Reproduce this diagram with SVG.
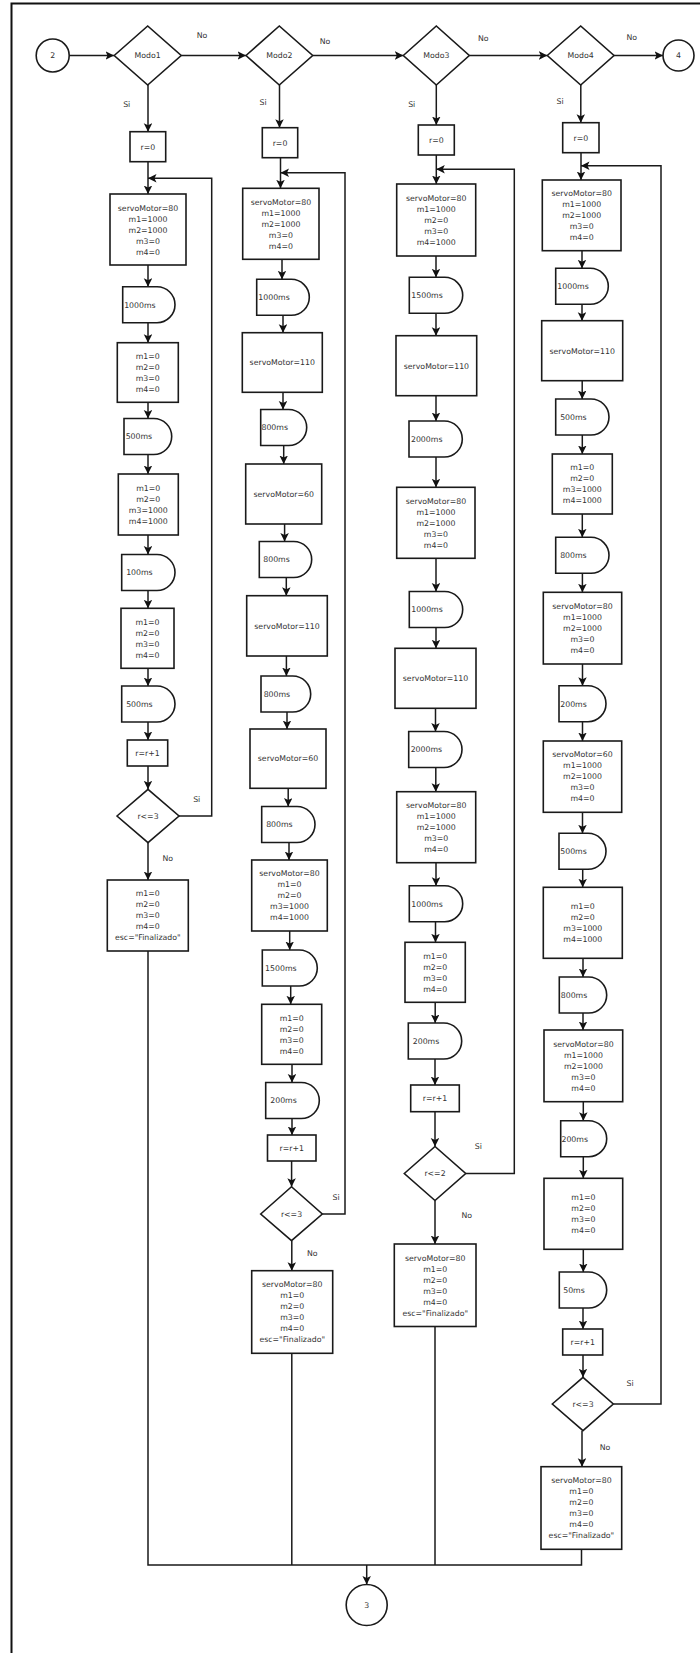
<svg xmlns="http://www.w3.org/2000/svg" width="700" height="1653" viewBox="0 0 700 1653">
  <style>
    .shape { fill: #ffffff; stroke: #1a1a1a; stroke-width: 1.6; }
    .edge { fill: none; stroke: #1a1a1a; stroke-width: 1.5; }
    .arr { marker-end: url(#ah); }
    text { font-family: "DejaVu Sans", Verdana, sans-serif; font-size: 7.8px; fill: #333333; text-anchor: middle; }
  </style>
  <defs>
    <marker id="ah" markerUnits="userSpaceOnUse" markerWidth="10" markerHeight="9" refX="8.5" refY="4.25" orient="auto">
      <path d="M0,0 L8.5,4.25 L0,8.5 L2,4.25 Z" fill="#111111"/>
    </marker>
  </defs>

  <rect width="700" height="1653" fill="#ffffff"/>
  <!-- page frame -->
  <rect x="11.5" y="3.5" width="720" height="1700" fill="none" stroke="#111111" stroke-width="2"/>

  <!-- ============ connectors ============ -->
  <g id="connectors">
    <!-- top row -->
    <line class="edge arr" x1="69.2" y1="55.5" x2="114" y2="55.5"/>
    <line class="edge arr" x1="181.2" y1="55.5" x2="246" y2="55.5"/>
    <line class="edge arr" x1="312.7" y1="55.5" x2="403.3" y2="55.5"/>
    <line class="edge arr" x1="469.3" y1="55.5" x2="547.3" y2="55.5"/>
    <line class="edge arr" x1="614" y1="55.5" x2="663" y2="55.5"/>

    <!-- Modo1 column -->
    <line class="edge arr" x1="148" y1="85" x2="148" y2="131.7"/>
    <line class="edge arr" x1="148" y1="161.7" x2="148" y2="194"/>
    <line class="edge arr" x1="148" y1="265" x2="148" y2="286.7"/>
    <line class="edge arr" x1="148" y1="322.7" x2="148" y2="342.7"/>
    <line class="edge arr" x1="148" y1="402.3" x2="148" y2="418.5"/>
    <line class="edge arr" x1="148" y1="454.5" x2="148" y2="474"/>
    <line class="edge arr" x1="148" y1="535" x2="148" y2="554.5"/>
    <line class="edge arr" x1="148" y1="590.5" x2="148" y2="608.3"/>
    <line class="edge arr" x1="148" y1="668.3" x2="148" y2="686"/>
    <line class="edge arr" x1="148" y1="722" x2="148" y2="740"/>
    <line class="edge arr" x1="148" y1="766" x2="148" y2="789.3"/>
    <line class="edge arr" x1="148" y1="842.7" x2="148" y2="880"/>
    <polyline class="edge arr" points="179,816 211.7,816 211.7,178.3 148,178.3"/>

    <!-- Modo2 column -->
    <line class="edge arr" x1="279.5" y1="85" x2="279.5" y2="127.7"/>
    <line class="edge arr" x1="280.5" y1="157.7" x2="280.5" y2="188.3"/>
    <line class="edge arr" x1="282" y1="259.3" x2="282" y2="279.3"/>
    <line class="edge arr" x1="283" y1="315.3" x2="283" y2="332.7"/>
    <line class="edge arr" x1="283" y1="392.3" x2="283" y2="409.5"/>
    <line class="edge arr" x1="283.7" y1="445.5" x2="283.7" y2="464"/>
    <line class="edge arr" x1="284.6" y1="524" x2="284.6" y2="541.5"/>
    <line class="edge arr" x1="286.3" y1="577.5" x2="286.3" y2="595.7"/>
    <line class="edge arr" x1="286.4" y1="656" x2="286.4" y2="676"/>
    <line class="edge arr" x1="287" y1="712" x2="287" y2="729"/>
    <line class="edge arr" x1="288.2" y1="788.3" x2="288.2" y2="806.5"/>
    <line class="edge arr" x1="289" y1="842.5" x2="289" y2="860"/>
    <line class="edge arr" x1="289.7" y1="931" x2="289.7" y2="950"/>
    <line class="edge arr" x1="290.7" y1="986" x2="290.7" y2="1004.3"/>
    <line class="edge arr" x1="292" y1="1064.3" x2="292" y2="1082.5"/>
    <line class="edge arr" x1="292" y1="1118.5" x2="292" y2="1135"/>
    <line class="edge arr" x1="291.6" y1="1161" x2="291.6" y2="1186.7"/>
    <line class="edge arr" x1="291.8" y1="1240.7" x2="291.8" y2="1270.7"/>
    <polyline class="edge arr" points="322.3,1214 345,1214 345,172.7 280.5,172.7"/>

    <!-- Modo3 column -->
    <line class="edge arr" x1="436.3" y1="85" x2="436.3" y2="125"/>
    <line class="edge arr" x1="436.3" y1="155" x2="436.3" y2="184"/>
    <line class="edge arr" x1="436" y1="256" x2="436" y2="277.3"/>
    <line class="edge arr" x1="436" y1="313.3" x2="436" y2="335.7"/>
    <line class="edge arr" x1="436" y1="395.7" x2="436" y2="421"/>
    <line class="edge arr" x1="436" y1="457" x2="436" y2="487.3"/>
    <line class="edge arr" x1="436" y1="558.3" x2="436" y2="591.5"/>
    <line class="edge arr" x1="436" y1="627.5" x2="436" y2="648.3"/>
    <line class="edge arr" x1="435.5" y1="708.3" x2="435.5" y2="731.5"/>
    <line class="edge arr" x1="435.8" y1="767.5" x2="435.8" y2="791.7"/>
    <line class="edge arr" x1="436" y1="862.7" x2="436" y2="885.7"/>
    <line class="edge arr" x1="435.5" y1="921.7" x2="435.5" y2="942.3"/>
    <line class="edge arr" x1="435.2" y1="1002.3" x2="435.2" y2="1023"/>
    <line class="edge arr" x1="435" y1="1059" x2="435" y2="1085"/>
    <line class="edge arr" x1="435" y1="1111.7" x2="435" y2="1146.5"/>
    <line class="edge arr" x1="435" y1="1200.5" x2="435" y2="1244"/>
    <polyline class="edge arr" points="465.7,1173.5 514.3,1173.5 514.3,169.3 436.3,169.3"/>

    <!-- Modo4 column -->
    <line class="edge arr" x1="580.8" y1="85" x2="580.8" y2="122.7"/>
    <line class="edge arr" x1="581" y1="152.7" x2="581" y2="180"/>
    <line class="edge arr" x1="582" y1="250.7" x2="582" y2="268.3"/>
    <line class="edge arr" x1="582" y1="304.3" x2="582" y2="320.7"/>
    <line class="edge arr" x1="582.2" y1="380.7" x2="582.2" y2="399"/>
    <line class="edge arr" x1="582.3" y1="435" x2="582.3" y2="454"/>
    <line class="edge arr" x1="582.3" y1="514" x2="582.3" y2="537.3"/>
    <line class="edge arr" x1="582.4" y1="573.3" x2="582.4" y2="592.3"/>
    <line class="edge arr" x1="582.5" y1="664" x2="582.5" y2="685.7"/>
    <line class="edge arr" x1="582.5" y1="721.7" x2="582.5" y2="741"/>
    <line class="edge arr" x1="582.5" y1="812.3" x2="582.5" y2="833.3"/>
    <line class="edge arr" x1="582.7" y1="869.3" x2="582.7" y2="887.3"/>
    <line class="edge arr" x1="583" y1="958.3" x2="583" y2="977"/>
    <line class="edge arr" x1="583" y1="1013" x2="583" y2="1030"/>
    <line class="edge arr" x1="583.3" y1="1101.7" x2="583.3" y2="1120.7"/>
    <line class="edge arr" x1="583.3" y1="1156.7" x2="583.3" y2="1178.3"/>
    <line class="edge arr" x1="583.3" y1="1249.3" x2="583.3" y2="1272"/>
    <line class="edge arr" x1="583" y1="1308" x2="583" y2="1329"/>
    <line class="edge arr" x1="583" y1="1355" x2="583" y2="1377.3"/>
    <line class="edge arr" x1="582" y1="1430.7" x2="582" y2="1466.7"/>
    <polyline class="edge arr" points="613.3,1404 661,1404 661,165.7 581,165.7"/>

    <!-- merge towards connector 3 -->
    <polyline class="edge" points="148,951 148,1565 581.5,1565 581.5,1549.3"/>
    <line class="edge" x1="291.8" y1="1353.3" x2="291.8" y2="1565"/>
    <line class="edge" x1="435" y1="1326.5" x2="435" y2="1565"/>
    <line class="edge arr" x1="366.7" y1="1565" x2="366.7" y2="1584.5"/>

    <!-- branch labels -->
    <text x="202" y="37.8">No</text>
    <text x="325" y="43.5">No</text>
    <text x="483.3" y="40.5">No</text>
    <text x="631.7" y="39.5">No</text>
    <text x="126.7" y="106.8">Si</text>
    <text x="263" y="104.5">Si</text>
    <text x="411.7" y="106.8">Si</text>
    <text x="560" y="103.8">Si</text>
    <text x="196.7" y="802.1">Si</text>
    <text x="167.7" y="860.5">No</text>
    <text x="336" y="1200.1">Si</text>
    <text x="312.3" y="1255.5">No</text>
    <text x="478.3" y="1148.8">Si</text>
    <text x="466.7" y="1217.8">No</text>
    <text x="630" y="1386.1">Si</text>
    <text x="605" y="1449.5">No</text>
  </g>

  <!-- ============ off-page connectors ============ -->
  <g id="conn-2">
    <circle class="shape" cx="52.7" cy="55.5" r="16.5"/>
    <text x="52.7" y="58.3">2</text>
  </g>
  <g id="conn-4">
    <circle class="shape" cx="678.5" cy="55.5" r="15.5"/>
    <text x="678.5" y="58.3">4</text>
  </g>
  <g id="conn-3">
    <circle class="shape" cx="366.7" cy="1605" r="20.5"/>
    <text x="366.7" y="1607.8">3</text>
  </g>

  <!-- ============ Modo1 ============ -->
  <g id="modo1">
    <polygon class="shape" points="114.2,55.5 147.7,26 181.2,55.5 147.7,85"/>
    <text x="147.7" y="58.3">Modo1</text>
  </g>
  <g id="m1-r0">
    <rect class="shape" x="130" y="131.7" width="35.7" height="30"/>
    <text x="147.9" y="149.5">r=0</text>
  </g>
  <g id="m1-set1">
    <rect class="shape" x="110" y="194" width="76" height="71"/>
    <text x="148" y="210.8">servoMotor=80<tspan x="148" dy="11">m1=1000</tspan><tspan x="148" dy="11">m2=1000</tspan><tspan x="148" dy="11">m3=0</tspan><tspan x="148" dy="11">m4=0</tspan></text>
  </g>
  <g id="m1-wait1">
    <path class="shape" d="M122.7,286.7 H157 A18,18 0 0 1 157,322.7 H122.7 Z"/>
    <text x="139.9" y="307.5">1000ms</text>
  </g>
  <g id="m1-set2">
    <rect class="shape" x="117.3" y="342.7" width="61" height="59.6"/>
    <text x="147.8" y="358.8">m1=0<tspan x="147.8" dy="11">m2=0</tspan><tspan x="147.8" dy="11">m3=0</tspan><tspan x="147.8" dy="11">m4=0</tspan></text>
  </g>
  <g id="m1-wait2">
    <path class="shape" d="M124,418.5 H153.7 A18,18 0 0 1 153.7,454.5 H124 Z"/>
    <text x="138.9" y="439.3">500ms</text>
  </g>
  <g id="m1-set3">
    <rect class="shape" x="118.3" y="474" width="60" height="61"/>
    <text x="148.3" y="490.8">m1=0<tspan x="148.3" dy="11">m2=0</tspan><tspan x="148.3" dy="11">m3=1000</tspan><tspan x="148.3" dy="11">m4=1000</tspan></text>
  </g>
  <g id="m1-wait3">
    <path class="shape" d="M121.7,554.5 H157 A18,18 0 0 1 157,590.5 H121.7 Z"/>
    <text x="139.4" y="575.3">100ms</text>
  </g>
  <g id="m1-set4">
    <rect class="shape" x="121" y="608.3" width="53" height="60"/>
    <text x="147.5" y="624.6">m1=0<tspan x="147.5" dy="11">m2=0</tspan><tspan x="147.5" dy="11">m3=0</tspan><tspan x="147.5" dy="11">m4=0</tspan></text>
  </g>
  <g id="m1-wait4">
    <path class="shape" d="M121.7,686 H157 A18,18 0 0 1 157,722 H121.7 Z"/>
    <text x="139.4" y="706.8">500ms</text>
  </g>
  <g id="m1-inc">
    <rect class="shape" x="127.3" y="740" width="40.4" height="26"/>
    <text x="147.5" y="755.8">r=r+1</text>
  </g>
  <g id="m1-loop">
    <polygon class="shape" points="117,816 148,789.3 179,816 148,842.7"/>
    <text x="148" y="818.8">r&lt;=3</text>
  </g>
  <g id="m1-end">
    <rect class="shape" x="107.3" y="880" width="81" height="71"/>
    <text x="147.8" y="896.3">m1=0<tspan x="147.8" dy="11">m2=0</tspan><tspan x="147.8" dy="11">m3=0</tspan><tspan x="147.8" dy="11">m4=0</tspan><tspan x="147.8" dy="11">esc=&quot;Finalizado&quot;</tspan></text>
  </g>

  <!-- ============ Modo2 ============ -->
  <g id="modo2">
    <polygon class="shape" points="246,55.5 279.3,26 312.7,55.5 279.3,85"/>
    <text x="279.3" y="58.3">Modo2</text>
  </g>
  <g id="m2-r0">
    <rect class="shape" x="262.3" y="127.7" width="35.4" height="30"/>
    <text x="280" y="145.5">r=0</text>
  </g>
  <g id="m2-set1">
    <rect class="shape" x="242.7" y="188.3" width="76.3" height="71"/>
    <text x="280.9" y="204.6">servoMotor=80<tspan x="280.9" dy="11">m1=1000</tspan><tspan x="280.9" dy="11">m2=1000</tspan><tspan x="280.9" dy="11">m3=0</tspan><tspan x="280.9" dy="11">m4=0</tspan></text>
  </g>
  <g id="m2-wait1">
    <path class="shape" d="M256.7,279.3 H291.3 A18,18 0 0 1 291.3,315.3 H256.7 Z"/>
    <text x="274" y="300.1">1000ms</text>
  </g>
  <g id="m2-servo1">
    <rect class="shape" x="242.3" y="332.7" width="80" height="59.6"/>
    <text x="282.3" y="365.3">servoMotor=110</text>
  </g>
  <g id="m2-wait2">
    <path class="shape" d="M260.7,409.5 H288.7 A18,18 0 0 1 288.7,445.5 H260.7 Z"/>
    <text x="274.7" y="430.3">800ms</text>
  </g>
  <g id="m2-servo2">
    <rect class="shape" x="245.7" y="464" width="76" height="60"/>
    <text x="283.7" y="496.8">servoMotor=60</text>
  </g>
  <g id="m2-wait3">
    <path class="shape" d="M259.3,541.5 H293.7 A18,18 0 0 1 293.7,577.5 H259.3 Z"/>
    <text x="276.5" y="562.3">800ms</text>
  </g>
  <g id="m2-servo3">
    <rect class="shape" x="246.7" y="595.7" width="80.6" height="60.3"/>
    <text x="287" y="628.6">servoMotor=110</text>
  </g>
  <g id="m2-wait4">
    <path class="shape" d="M261,676 H292.7 A18,18 0 0 1 292.7,712 H261 Z"/>
    <text x="276.9" y="696.8">800ms</text>
  </g>
  <g id="m2-servo4">
    <rect class="shape" x="250" y="729" width="76" height="59.3"/>
    <text x="288" y="761.4">servoMotor=60</text>
  </g>
  <g id="m2-wait5">
    <path class="shape" d="M261.7,806.5 H297 A18,18 0 0 1 297,842.5 H261.7 Z"/>
    <text x="279.4" y="827.3">800ms</text>
  </g>
  <g id="m2-set2">
    <rect class="shape" x="251.7" y="860" width="75.6" height="71"/>
    <text x="289.5" y="876.3">servoMotor=80<tspan x="289.5" dy="11">m1=0</tspan><tspan x="289.5" dy="11">m2=0</tspan><tspan x="289.5" dy="11">m3=1000</tspan><tspan x="289.5" dy="11">m4=1000</tspan></text>
  </g>
  <g id="m2-wait6">
    <path class="shape" d="M262.3,950 H299.3 A18,18 0 0 1 299.3,986 H262.3 Z"/>
    <text x="280.8" y="970.8">1500ms</text>
  </g>
  <g id="m2-set3">
    <rect class="shape" x="261.7" y="1004.3" width="60" height="60"/>
    <text x="291.7" y="1020.6">m1=0<tspan x="291.7" dy="11">m2=0</tspan><tspan x="291.7" dy="11">m3=0</tspan><tspan x="291.7" dy="11">m4=0</tspan></text>
  </g>
  <g id="m2-wait7">
    <path class="shape" d="M265.7,1082.5 H301.3 A18,18 0 0 1 301.3,1118.5 H265.7 Z"/>
    <text x="283.5" y="1103.3">200ms</text>
  </g>
  <g id="m2-inc">
    <rect class="shape" x="267.5" y="1135" width="48.5" height="26"/>
    <text x="291.8" y="1150.8">r=r+1</text>
  </g>
  <g id="m2-loop">
    <polygon class="shape" points="260.7,1214 291.5,1186.7 322.3,1214 291.5,1240.7"/>
    <text x="291.5" y="1216.8">r&lt;=3</text>
  </g>
  <g id="m2-end">
    <rect class="shape" x="251.7" y="1270.7" width="81" height="82.6"/>
    <text x="292.2" y="1287.3">servoMotor=80<tspan x="292.2" dy="11">m1=0</tspan><tspan x="292.2" dy="11">m2=0</tspan><tspan x="292.2" dy="11">m3=0</tspan><tspan x="292.2" dy="11">m4=0</tspan><tspan x="292.2" dy="11">esc=&quot;Finalizado&quot;</tspan></text>
  </g>

  <!-- ============ Modo3 ============ -->
  <g id="modo3">
    <polygon class="shape" points="403.3,55.5 436.3,26 469.3,55.5 436.3,85"/>
    <text x="436.3" y="58.3">Modo3</text>
  </g>
  <g id="m3-r0">
    <rect class="shape" x="418.3" y="125" width="36" height="30"/>
    <text x="436.3" y="142.8">r=0</text>
  </g>
  <g id="m3-set1">
    <rect class="shape" x="396.7" y="184" width="79" height="72"/>
    <text x="436.2" y="200.8">servoMotor=80<tspan x="436.2" dy="11">m1=1000</tspan><tspan x="436.2" dy="11">m2=0</tspan><tspan x="436.2" dy="11">m3=0</tspan><tspan x="436.2" dy="11">m4=1000</tspan></text>
  </g>
  <g id="m3-wait1">
    <path class="shape" d="M409.3,277.3 H444.7 A18,18 0 0 1 444.7,313.3 H409.3 Z"/>
    <text x="427" y="298.1">1500ms</text>
  </g>
  <g id="m3-servo1">
    <rect class="shape" x="396" y="335.7" width="80.7" height="60"/>
    <text x="436.4" y="368.5">servoMotor=110</text>
  </g>
  <g id="m3-wait2">
    <path class="shape" d="M409,421 H444.3 A18,18 0 0 1 444.3,457 H409 Z"/>
    <text x="426.7" y="441.8">2000ms</text>
  </g>
  <g id="m3-set2">
    <rect class="shape" x="396.7" y="487.3" width="78.3" height="71"/>
    <text x="435.9" y="503.6">servoMotor=80<tspan x="435.9" dy="11">m1=1000</tspan><tspan x="435.9" dy="11">m2=1000</tspan><tspan x="435.9" dy="11">m3=0</tspan><tspan x="435.9" dy="11">m4=0</tspan></text>
  </g>
  <g id="m3-wait3">
    <path class="shape" d="M409.3,591.5 H444.7 A18,18 0 0 1 444.7,627.5 H409.3 Z"/>
    <text x="427" y="612.3">1000ms</text>
  </g>
  <g id="m3-servo2">
    <rect class="shape" x="395" y="648.3" width="81" height="60"/>
    <text x="435.5" y="681.1">servoMotor=110</text>
  </g>
  <g id="m3-wait4">
    <path class="shape" d="M408.7,731.5 H444 A18,18 0 0 1 444,767.5 H408.7 Z"/>
    <text x="426.4" y="752.3">2000ms</text>
  </g>
  <g id="m3-set3">
    <rect class="shape" x="396.7" y="791.7" width="79" height="71"/>
    <text x="436.2" y="808">servoMotor=80<tspan x="436.2" dy="11">m1=1000</tspan><tspan x="436.2" dy="11">m2=1000</tspan><tspan x="436.2" dy="11">m3=0</tspan><tspan x="436.2" dy="11">m4=0</tspan></text>
  </g>
  <g id="m3-wait5">
    <path class="shape" d="M409.3,885.7 H444.7 A18,18 0 0 1 444.7,921.7 H409.3 Z"/>
    <text x="427" y="906.5">1000ms</text>
  </g>
  <g id="m3-set4">
    <rect class="shape" x="405" y="942.3" width="60.3" height="60"/>
    <text x="435.2" y="958.6">m1=0<tspan x="435.2" dy="11">m2=0</tspan><tspan x="435.2" dy="11">m3=0</tspan><tspan x="435.2" dy="11">m4=0</tspan></text>
  </g>
  <g id="m3-wait6">
    <path class="shape" d="M408.3,1023 H443.7 A18,18 0 0 1 443.7,1059 H408.3 Z"/>
    <text x="426" y="1043.8">200ms</text>
  </g>
  <g id="m3-inc">
    <rect class="shape" x="410.7" y="1085" width="48.6" height="26.7"/>
    <text x="435" y="1101.1">r=r+1</text>
  </g>
  <g id="m3-loop">
    <polygon class="shape" points="404.3,1173.5 435,1146.5 465.7,1173.5 435,1200.5"/>
    <text x="435" y="1176.3">r&lt;=2</text>
  </g>
  <g id="m3-end">
    <rect class="shape" x="394.3" y="1244" width="81.7" height="82.5"/>
    <text x="435.2" y="1260.5">servoMotor=80<tspan x="435.2" dy="11">m1=0</tspan><tspan x="435.2" dy="11">m2=0</tspan><tspan x="435.2" dy="11">m3=0</tspan><tspan x="435.2" dy="11">m4=0</tspan><tspan x="435.2" dy="11">esc=&quot;Finalizado&quot;</tspan></text>
  </g>

  <!-- ============ Modo4 ============ -->
  <g id="modo4">
    <polygon class="shape" points="547.3,55.5 580.7,26 614,55.5 580.7,85"/>
    <text x="580.7" y="58.3">Modo4</text>
  </g>
  <g id="m4-r0">
    <rect class="shape" x="562.7" y="122.7" width="36.3" height="30"/>
    <text x="580.9" y="140.5">r=0</text>
  </g>
  <g id="m4-set1">
    <rect class="shape" x="542.3" y="180" width="78.7" height="70.7"/>
    <text x="581.7" y="196.2">servoMotor=80<tspan x="581.7" dy="11">m1=1000</tspan><tspan x="581.7" dy="11">m2=1000</tspan><tspan x="581.7" dy="11">m3=0</tspan><tspan x="581.7" dy="11">m4=0</tspan></text>
  </g>
  <g id="m4-wait1">
    <path class="shape" d="M555.7,268.3 H590.3 A18,18 0 0 1 590.3,304.3 H555.7 Z"/>
    <text x="573" y="289.1">1000ms</text>
  </g>
  <g id="m4-servo1">
    <rect class="shape" x="541.7" y="320.7" width="81" height="60"/>
    <text x="582.2" y="353.5">servoMotor=110</text>
  </g>
  <g id="m4-wait2">
    <path class="shape" d="M555.7,399 H591 A18,18 0 0 1 591,435 H555.7 Z"/>
    <text x="573.4" y="419.8">500ms</text>
  </g>
  <g id="m4-set2">
    <rect class="shape" x="552.3" y="454" width="60" height="60"/>
    <text x="582.3" y="470.3">m1=0<tspan x="582.3" dy="11">m2=0</tspan><tspan x="582.3" dy="11">m3=1000</tspan><tspan x="582.3" dy="11">m4=1000</tspan></text>
  </g>
  <g id="m4-wait3">
    <path class="shape" d="M555.7,537.3 H591 A18,18 0 0 1 591,573.3 H555.7 Z"/>
    <text x="573.4" y="558.1">800ms</text>
  </g>
  <g id="m4-set3">
    <rect class="shape" x="543.3" y="592.3" width="78.4" height="71.7"/>
    <text x="582.5" y="608.9">servoMotor=80<tspan x="582.5" dy="11">m1=1000</tspan><tspan x="582.5" dy="11">m2=1000</tspan><tspan x="582.5" dy="11">m3=0</tspan><tspan x="582.5" dy="11">m4=0</tspan></text>
  </g>
  <g id="m4-wait4">
    <path class="shape" d="M559,685.7 H588 A18,18 0 0 1 588,721.7 H559 Z"/>
    <text x="573.5" y="706.5">200ms</text>
  </g>
  <g id="m4-set4">
    <rect class="shape" x="543.3" y="741" width="78.4" height="71.3"/>
    <text x="582.5" y="757.4">servoMotor=60<tspan x="582.5" dy="11">m1=1000</tspan><tspan x="582.5" dy="11">m2=1000</tspan><tspan x="582.5" dy="11">m3=0</tspan><tspan x="582.5" dy="11">m4=0</tspan></text>
  </g>
  <g id="m4-wait5">
    <path class="shape" d="M559,833.3 H588 A18,18 0 0 1 588,869.3 H559 Z"/>
    <text x="573.5" y="854.1">500ms</text>
  </g>
  <g id="m4-set5">
    <rect class="shape" x="543.3" y="887.3" width="79" height="71"/>
    <text x="582.8" y="909.1">m1=0<tspan x="582.8" dy="11">m2=0</tspan><tspan x="582.8" dy="11">m3=1000</tspan><tspan x="582.8" dy="11">m4=1000</tspan></text>
  </g>
  <g id="m4-wait6">
    <path class="shape" d="M559.3,977 H588.7 A18,18 0 0 1 588.7,1013 H559.3 Z"/>
    <text x="574" y="997.8">800ms</text>
  </g>
  <g id="m4-set6">
    <rect class="shape" x="544" y="1030" width="78.7" height="71.7"/>
    <text x="583.4" y="1046.6">servoMotor=80<tspan x="583.4" dy="11">m1=1000</tspan><tspan x="583.4" dy="11">m2=1000</tspan><tspan x="583.4" dy="11">m3=0</tspan><tspan x="583.4" dy="11">m4=0</tspan></text>
  </g>
  <g id="m4-wait7">
    <path class="shape" d="M560.7,1120.7 H588.7 A18,18 0 0 1 588.7,1156.7 H560.7 Z"/>
    <text x="574.7" y="1141.5">200ms</text>
  </g>
  <g id="m4-set7">
    <rect class="shape" x="544" y="1178.3" width="78.7" height="71"/>
    <text x="583.4" y="1200.1">m1=0<tspan x="583.4" dy="11">m2=0</tspan><tspan x="583.4" dy="11">m3=0</tspan><tspan x="583.4" dy="11">m4=0</tspan></text>
  </g>
  <g id="m4-wait8">
    <path class="shape" d="M559.3,1272 H588.7 A18,18 0 0 1 588.7,1308 H559.3 Z"/>
    <text x="574" y="1292.8">50ms</text>
  </g>
  <g id="m4-inc">
    <rect class="shape" x="562.7" y="1329" width="40" height="26"/>
    <text x="582.7" y="1344.8">r=r+1</text>
  </g>
  <g id="m4-loop">
    <polygon class="shape" points="552.3,1404 583,1377.3 613.3,1404 583,1430.7"/>
    <text x="583" y="1406.8">r&lt;=3</text>
  </g>
  <g id="m4-end">
    <rect class="shape" x="541" y="1466.7" width="80.7" height="82.6"/>
    <text x="581.4" y="1483.3">servoMotor=80<tspan x="581.4" dy="11">m1=0</tspan><tspan x="581.4" dy="11">m2=0</tspan><tspan x="581.4" dy="11">m3=0</tspan><tspan x="581.4" dy="11">m4=0</tspan><tspan x="581.4" dy="11">esc=&quot;Finalizado&quot;</tspan></text>
  </g>
</svg>
